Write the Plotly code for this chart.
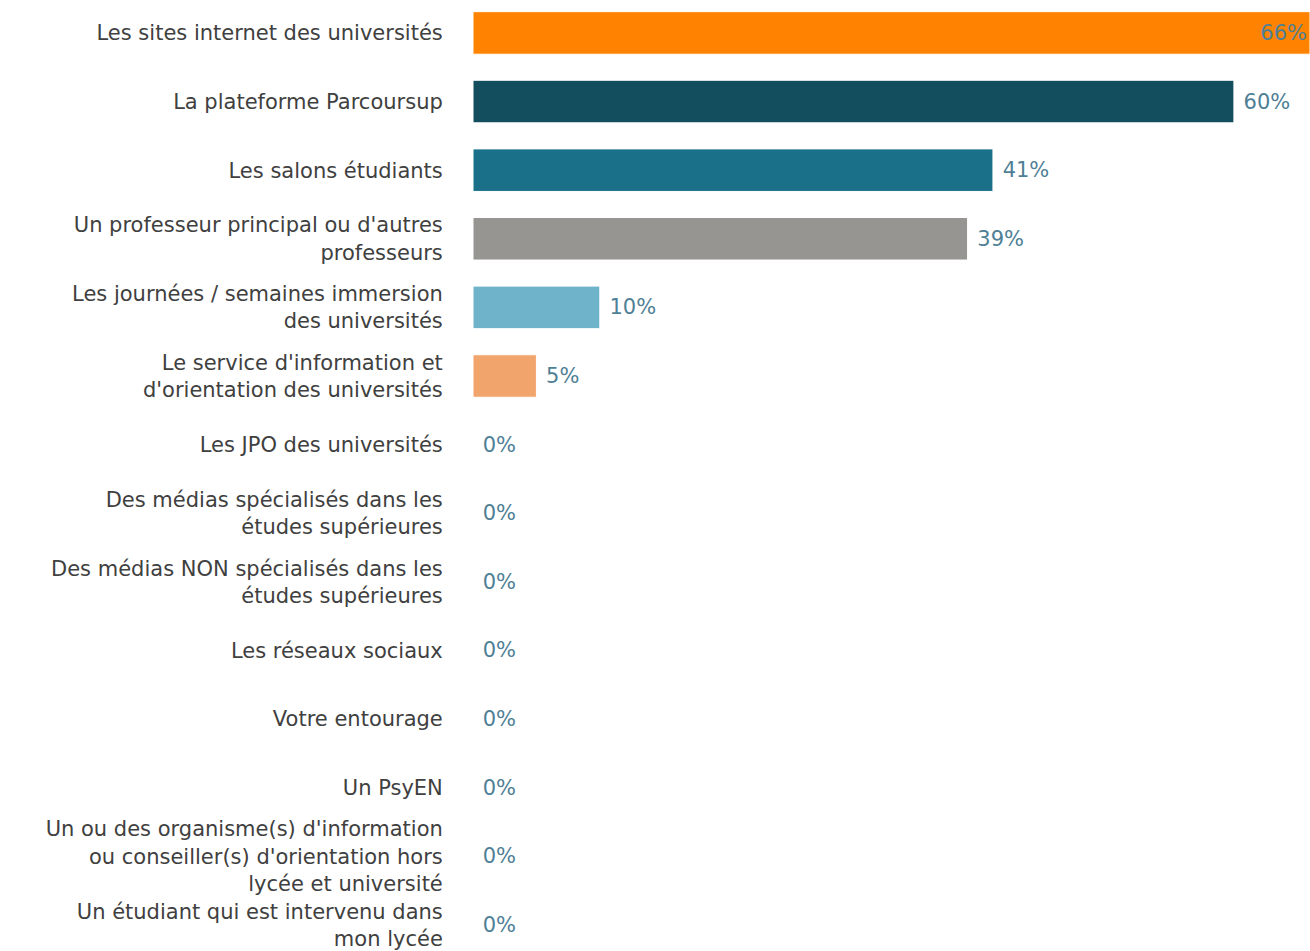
import plotly.graph_objects as go

# categories, top to bottom
categories = [
    "Les sites internet des universités",
    "La plateforme Parcoursup",
    "Les salons étudiants",
    "Un professeur principal ou d'autres<br>professeurs",
    "Les journées / semaines immersion<br>des universités",
    "Le service d'information et<br>d'orientation des universités",
    "Les JPO des universités",
    "Des médias spécialisés dans les<br>études supérieures",
    "Des médias NON spécialisés dans les<br>études supérieures",
    "Les réseaux sociaux",
    "Votre entourage",
    "Un PsyEN",
    "Un ou des organisme(s) d'information<br>ou conseiller(s) d'orientation hors<br>lycée et université",
    "Un étudiant qui est intervenu dans<br>mon lycée",
]
values = [66, 60, 41, 39, 10, 5, 0, 0, 0, 0, 0, 0, 0, 0]
bar_colors = ["#FF8300", "#134E5E", "#1B7089", "#969591", "#6FB3CB", "#F2A46D",
              "#969591", "#969591", "#969591", "#969591", "#969591", "#969591",
              "#969591", "#969591"]

label_color = "#4F7F96"
font_family = "DejaVu Sans"
font_size = 21

positions = ["inside" if v == max(values) else "outside" for v in values]
texts = [f"{v}%" if p == "inside" else f" {v}%" for v, p in zip(values, positions)]

fig = go.Figure(go.Bar(
    x=values,
    y=categories,
    orientation="h",
    marker=dict(color=bar_colors, line=dict(color="white", width=1)),
    text=texts,
    textposition=positions,
    insidetextanchor="end",
    textfont=dict(family=font_family, size=font_size, color=label_color),
    insidetextfont=dict(family=font_family, size=font_size, color=label_color),
    outsidetextfont=dict(family=font_family, size=font_size, color=label_color),
    cliponaxis=False,
    hoverinfo="skip",
))

fig.update_layout(
    width=1310, height=951,
    margin=dict(l=473, r=0, t=0, b=0, autoexpand=False),
    paper_bgcolor="white", plot_bgcolor="white",
    bargap=0.38,
    showlegend=False,
    font=dict(family=font_family, size=font_size, color="#404040"),
    xaxis=dict(range=[0, 66], visible=False, showgrid=False, zeroline=False),
    yaxis=dict(
        autorange=False, range=[13.38, -0.48],
        showgrid=False, zeroline=False, showline=False,
        ticks="outside", ticklen=25, tickcolor="rgba(0,0,0,0)",
        tickfont=dict(family=font_family, size=font_size, color="#404040"),
    ),
    uniformtext=dict(mode=False),
)

fig.write_html(
    "out.html",
    config={"displayModeBar": False},
    post_script="document.body.style.margin='0';document.body.style.overflow='hidden';",
)
